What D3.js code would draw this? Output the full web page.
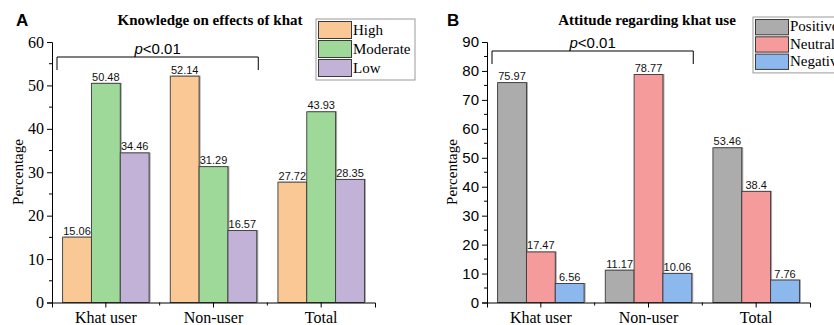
<!DOCTYPE html>
<html>
<head>
<meta charset="utf-8">
<script src="https://cdn.jsdelivr.net/npm/d3@7"></script>
<style>
  html, body { margin: 0; padding: 0; background: #fff; }
  svg { display: block; }
</style>
</head>
<body>
<div id="chart"></div>
<script>
// categories and values
const categories = ["Khat user", "Non-user", "Total"];

const knowledgeSeries = ["High", "Moderate", "Low"];
const knowledgeHigh = [15.06, 52.14, 27.72];
const knowledgeModerate = [50.48, 31.29, 43.93];
const knowledgeLow = [34.46, 16.57, 28.35];
const knowledgeTicks = [0, 10, 20, 30, 40, 50, 60];

const attitudeSeries = ["Positive", "Neutral", "Negative"];
const attitudePositive = [75.97, 11.17, 53.46];
const attitudeNeutral = [17.47, 78.77, 38.4];
const attitudeNegative = [6.56, 10.06, 7.76];
const attitudeTicks = [0, 10, 20, 30, 40, 50, 60, 70, 80, 90];

(function () {
  const W = 834, H = 325;
  const svg = d3.select("#chart").append("svg").attr("width", W).attr("height", H);

  function drawPanel(opt) {
    const g = svg.append("g").attr("transform", `translate(${opt.dx},0)`);
    const x0 = 52, x1 = 375, yBottom = 302.5, yTop = 42;
    const tickFont = opt.tickFont;

    const x = d3.scaleBand().domain(categories).range([x0, x1]);
    const xs = d3.scaleBand().domain(opt.series).range([10.6, 97.1]);
    const y = d3.scaleLinear().domain([0, d3.max(opt.ticks)]).range([yBottom, yTop]);

    const rows = [];
    categories.forEach((c, i) => {
      opt.series.forEach((s, j) => rows.push({ cat: c, series: s, value: opt.values[j][i] }));
    });

    // bar shadows
    g.selectAll(".shadow").data(rows).join("rect")
      .attr("x", d => x(d.cat) + xs(d.series) + 1.5)
      .attr("y", d => y(d.value) - 0.5)
      .attr("width", xs.bandwidth())
      .attr("height", d => yBottom - y(d.value))
      .attr("fill", "#a8a8a8");

    g.selectAll(".bar").data(rows).join("rect")
      .attr("x", d => x(d.cat) + xs(d.series))
      .attr("y", d => y(d.value))
      .attr("width", xs.bandwidth())
      .attr("height", d => yBottom - y(d.value))
      .attr("fill", d => opt.colors[d.series])
      .attr("stroke", "#3a3a3a")
      .attr("stroke-width", 0.9);

    g.selectAll(".val").data(rows).join("text")
      .attr("x", d => x(d.cat) + xs(d.series) + xs.bandwidth() / 2)
      .attr("y", d => y(d.value) - 2.5)
      .attr("text-anchor", "middle")
      .attr("font-family", "Liberation Sans, Arial, sans-serif")
      .attr("font-size", "11px")
      .attr("fill", "#111")
      .text(d => String(d.value));

    // y axis with minor ticks
    const yAxis = g.append("g").attr("transform", `translate(${x0},0)`)
      .call(d3.axisLeft(y).tickValues(opt.ticks).tickSize(5).tickPadding(3));
    yAxis.selectAll("text")
      .attr("font-family", tickFont)
      .attr("font-size", opt.tickSize)
      .attr("fill", "#000");
    const minor = opt.ticks.slice(0, -1).map(t => t + (opt.ticks[1] - opt.ticks[0]) / 2);
    g.append("g").selectAll("line").data(minor).join("line")
      .attr("x1", x0 - 3).attr("x2", x0)
      .attr("y1", d => y(d)).attr("y2", d => y(d))
      .attr("stroke", "#000");

    // x axis
    const xAxis = g.append("g").attr("transform", `translate(0,${yBottom})`)
      .call(d3.axisBottom(x).tickSize(5).tickPadding(4));
    xAxis.selectAll("text")
      .attr("font-family", "Liberation Serif, Times New Roman, serif")
      .attr("font-size", "16px")
      .attr("fill", "#000");
    g.append("g").selectAll("line").data(categories.slice(1)).join("line")
      .attr("x1", d => x(d)).attr("x2", d => x(d))
      .attr("y1", yBottom).attr("y2", yBottom + 3)
      .attr("stroke", "#000");
    g.selectAll(".domain").attr("stroke", "#000");

    // axis label
    g.append("text")
      .attr("transform", `translate(${opt.labelX},172) rotate(-90)`)
      .attr("text-anchor", "middle")
      .attr("font-family", "Liberation Serif, Times New Roman, serif")
      .attr("font-size", "15px")
      .text("Percentage");

    // titles
    g.append("text")
      .attr("x", opt.letterX).attr("y", 26)
      .attr("font-family", "Liberation Sans, Arial, sans-serif")
      .attr("font-weight", "bold")
      .attr("font-size", "17px")
      .text(opt.letter);
    g.append("text")
      .attr("x", opt.titleX).attr("y", 25)
      .attr("text-anchor", "middle")
      .attr("font-family", "Liberation Serif, Times New Roman, serif")
      .attr("font-weight", "bold")
      .attr("font-size", "15px")
      .text(opt.title);

    // significance bracket from first to second group
    const bx0 = x(categories[0]) + 5;
    const bx1 = x(categories[1]) + xs.range()[1] + 1.5;
    g.append("path")
      .attr("d", `M${bx0},${opt.bracketY + 13}V${opt.bracketY}H${bx1}V${opt.bracketY + 13}`)
      .attr("fill", "none").attr("stroke", "#000").attr("stroke-width", 1);
    const pt = g.append("text")
      .attr("x", (bx0 + bx1) / 2).attr("y", opt.bracketY - 3)
      .attr("text-anchor", "middle")
      .attr("font-family", "Liberation Sans, Arial, sans-serif")
      .attr("font-size", "15px");
    pt.append("tspan").attr("font-style", "italic").text("p");
    pt.append("tspan").text("<0.01");

    // legend
    const lg = g.append("g").attr("transform", `translate(${opt.legendX},${opt.legendY})`);
    lg.append("rect")
      .attr("x", 0).attr("y", 0)
      .attr("width", 99).attr("height", opt.series.length * opt.rowH + 4)
      .attr("fill", "#fff").attr("stroke", "#999");
    opt.series.forEach((s, i) => {
      lg.append("rect")
        .attr("x", 2.5).attr("y", 2.5 + i * opt.rowH)
        .attr("width", 33).attr("height", opt.rowH - 2)
        .attr("fill", opt.colors[s]).attr("stroke", "#3a3a3a");
      lg.append("text")
        .attr("x", 37).attr("y", 2 + i * opt.rowH + opt.rowH - 5)
        .attr("font-family", "Liberation Serif, Times New Roman, serif")
        .attr("font-size", "15px")
        .text(s);
    });
  }

  drawPanel({
    dx: 0,
    series: knowledgeSeries,
    values: [knowledgeHigh, knowledgeModerate, knowledgeLow],
    ticks: knowledgeTicks,
    colors: { High: "#f9c895", Moderate: "#9fd99a", Low: "#c2b2d8" },
    tickFont: "Liberation Serif, Times New Roman, serif",
    tickSize: "16px",
    labelX: 23,
    letter: "A", letterX: 16,
    title: "Knowledge on effects of khat", titleX: 210,
    bracketY: 57,
    legendX: 316, legendY: 19, rowH: 19
  });

  drawPanel({
    dx: 435,
    series: attitudeSeries,
    values: [attitudePositive, attitudeNeutral, attitudeNegative],
    ticks: attitudeTicks,
    colors: { Positive: "#acacac", Neutral: "#f59b9b", Negative: "#8db8ee" },
    tickFont: "Liberation Sans, Arial, sans-serif",
    tickSize: "15px",
    labelX: 22,
    letter: "B", letterX: 12,
    title: "Attitude regarding khat use", titleX: 212,
    bracketY: 51,
    legendX: 318, legendY: 17, rowH: 17.3
  });
})();
</script>
</body>
</html>
